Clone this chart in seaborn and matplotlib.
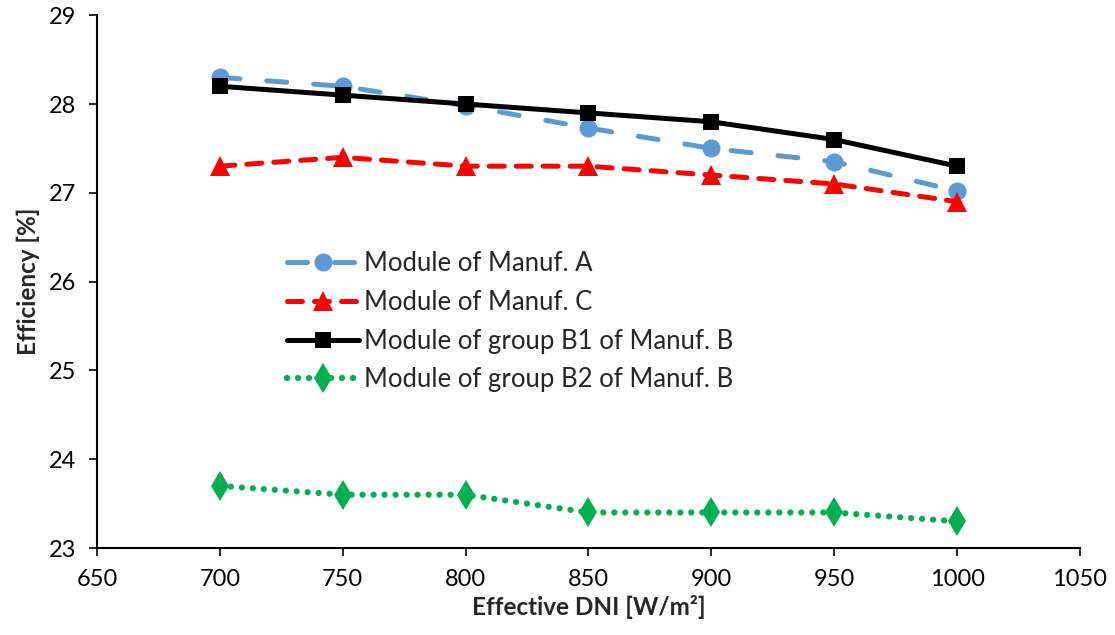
import matplotlib
matplotlib.use("Agg")
import matplotlib.pyplot as plt
import seaborn as sns
import pandas as pd

dni = [700, 750, 800, 850, 900, 950, 1000]
eff_a = [28.3, 28.2, 27.98, 27.73, 27.5, 27.35, 27.02]
eff_c = [27.3, 27.4, 27.3, 27.3, 27.2, 27.1, 26.9]
eff_b1 = [28.2, 28.1, 28.0, 27.9, 27.8, 27.6, 27.3]
eff_b2 = [23.7, 23.6, 23.6, 23.4, 23.4, 23.4, 23.3]
labels = ["Module of Manuf. A", "Module of Manuf. C",
          "Module of group B1 of Manuf. B", "Module of group B2 of Manuf. B"]
x_ticks = [650, 700, 750, 800, 850, 900, 950, 1000, 1050]
y_ticks = [23, 24, 25, 26, 27, 28, 29]

sns.set_theme(style="ticks")
plt.rcParams['font.family'] = ['Lato', 'DejaVu Sans']

fig = plt.figure(figsize=(11.15, 6.35), dpi=100)
ax = fig.add_axes([0.087, 0.137, 0.8816, 0.839])

styles = [
    dict(color="#5B9BD5", marker="o", markersize=13, dashes=(4.0, 5.4), lw=3.6),
    dict(color="#FF0000", marker="^", markersize=14, dashes=(3.0, 2.4), lw=3.6),
    dict(color="#000000", marker="s", markersize=11, dashes=None, lw=3.6),
    dict(color="#00B050", marker="d", markersize=15, dashes=(0.01, 1.75), lw=4.5),
]
series = [eff_a, eff_c, eff_b1, eff_b2]

for vals, lab, st in zip(series, labels, styles):
    df = pd.DataFrame({"x": dni, "y": vals})
    sns.lineplot(data=df, x="x", y="y", ax=ax, color=st["color"], marker=st["marker"],
                 markersize=st["markersize"], markeredgewidth=0, linewidth=st["lw"],
                 label=lab, dash_capstyle="round", solid_capstyle="round")
    line = ax.lines[-1]
    if st["dashes"] is not None:
        line.set_dashes(st["dashes"])

ax.set_xlim(650, 1050)
ax.set_ylim(23, 29)
ax.set_xticks(x_ticks)
ax.set_yticks(y_ticks)
ax.tick_params(axis="both", labelsize=17, direction="out", length=6, width=1.2,
               colors="black", pad=9)
for s in ["left", "bottom"]:
    ax.spines[s].set_linewidth(1.5)
    ax.spines[s].set_color("black")
sns.despine(ax=ax)
ax.set_xlabel("Effective DNI [W/m²]", fontsize=17.5, fontweight="bold", labelpad=4)
ax.set_ylabel("Efficiency [%]", fontsize=17.5, fontweight="bold", labelpad=6)

leg = ax.legend(loc="upper left", bbox_to_anchor=(0.17, 0.60), frameon=False,
                fontsize=18.5, handlelength=2.8, labelspacing=0.53, handletextpad=0.2)

fig.savefig("out.png", dpi=100)
